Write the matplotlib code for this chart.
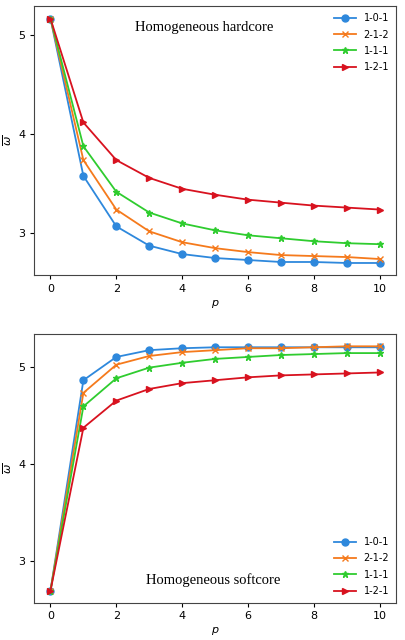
import matplotlib
matplotlib.use("Agg")
import matplotlib.pyplot as plt

p = list(range(11))
labels = ["1-0-1", "2-1-2", "1-1-1", "1-2-1"]

hard_101 = [5.17, 3.58, 3.07, 2.875, 2.79, 2.75, 2.73, 2.71, 2.71, 2.70, 2.70]
hard_212 = [5.17, 3.74, 3.24, 3.02, 2.91, 2.85, 2.81, 2.78, 2.77, 2.76, 2.74]
hard_111 = [5.17, 3.88, 3.42, 3.21, 3.10, 3.03, 2.98, 2.95, 2.92, 2.90, 2.89]
hard_121 = [5.17, 4.12, 3.74, 3.56, 3.45, 3.39, 3.34, 3.31, 3.28, 3.26, 3.24]

soft_101 = [2.69, 4.86, 5.10, 5.17, 5.19, 5.20, 5.20, 5.20, 5.20, 5.20, 5.20]
soft_212 = [2.69, 4.73, 5.02, 5.11, 5.15, 5.17, 5.19, 5.19, 5.20, 5.21, 5.21]
soft_111 = [2.69, 4.59, 4.88, 4.99, 5.04, 5.08, 5.10, 5.12, 5.13, 5.14, 5.14]
soft_121 = [2.69, 4.37, 4.65, 4.77, 4.83, 4.86, 4.89, 4.91, 4.92, 4.93, 4.94]

colors = ["#2e88dc", "#f57a1c", "#2fcc2f", "#d8121f"]
markers = ["o", "x", "*", ">"]
msizes = [5, 5, 5, 5]

fig = plt.figure(figsize=(4.05, 6.4), dpi=100)
ax1 = fig.add_axes([0.084, 0.570, 0.894, 0.420])
ax2 = fig.add_axes([0.084, 0.058, 0.894, 0.420])

for ax, series, title, loc, tpos in [
    (ax1, [hard_101, hard_212, hard_111, hard_121], "Homogeneous hardcore", "upper right", (0.47, 0.92)),
    (ax2, [soft_101, soft_212, soft_111, soft_121], "Homogeneous softcore", "lower right", (0.495, 0.085)),
]:
    for s, c, m, ms, lab in zip(series, colors, markers, msizes, labels):
        ax.plot(p, s, color=c, marker=m, markersize=ms, linewidth=1.3, label=lab)
    ax.set_xticks([0, 2, 4, 6, 8, 10])
    ax.set_yticks([3, 4, 5])
    ax.tick_params(labelsize=8, length=3, pad=3)
    ax.set_xlabel(r"$p$", fontsize=8, labelpad=3)
    ax.set_ylabel(r"$\overline{\omega}$", fontsize=8, labelpad=3)
    ax.legend(loc=loc, frameon=False, fontsize=7, handlelength=2.2,
              labelspacing=0.65, borderaxespad=0.3)
    ax.text(tpos[0], tpos[1], title, transform=ax.transAxes, ha="center", va="center",
            family="Liberation Serif", fontsize=10.5)
    for sp in ax.spines.values():
        sp.set_color("#444444")

fig.savefig("out.png", dpi=100)
